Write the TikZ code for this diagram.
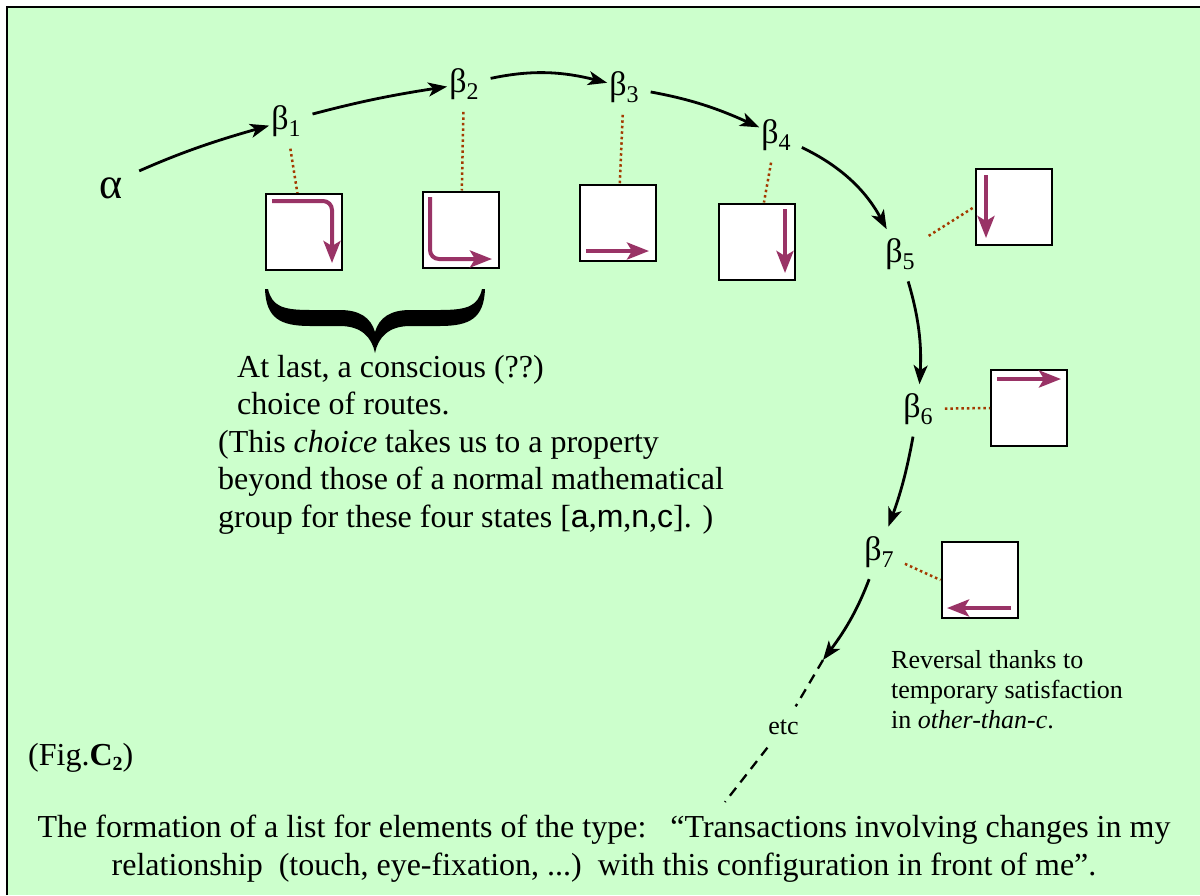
\documentclass[tikz,border=0pt]{standalone}
\usepackage{fontspec}
\setmainfont{Liberation Serif}
\newfontfamily\sansf{Liberation Sans}
\usetikzlibrary{arrows.meta}
\definecolor{bg}{HTML}{CCFFCC}
\definecolor{mag}{HTML}{993366}
\definecolor{dotc}{HTML}{A33A00}
\newcommand\bet[1]{β\raisebox{-7pt}{\fontsize{24}{24}\selectfont #1}}
\tikzset{
  state/.style={inner sep=2pt, font=\fontsize{34}{34}\selectfont},
  flow/.style={draw=black, line width=2.8pt, -{Stealth[length=19pt,width=14pt,inset=5pt]}, shorten <=10pt},
  cell/.style={draw=black, line width=2pt, fill=white, minimum width=76pt, minimum height=76pt, inner sep=0pt},
  route/.style={draw=mag, line width=4pt, -{Stealth[length=22pt,width=17pt,inset=5pt]}, rounded corners=9pt},
  link/.style={draw=dotc, line width=2.5pt, dash pattern={on 2.5pt off 3pt}, shorten <=10pt},
  dashline/.style={draw=black, line width=2.3pt, dash pattern={on 10pt off 7pt}},
  body/.style={inner sep=0pt, font=\fontsize{32}{37.5}\selectfont},
  small/.style={inner sep=0pt, font=\fontsize{26}{30}\selectfont}
}
\begin{document}
\begin{tikzpicture}[x=1pt,y=-1pt]
\useasboundingbox (0,0) rectangle (1200,895);
\fill[bg] (7,7) rectangle (1200,895);
\draw[line width=2pt] (7,895) -- (7,7) -- (1200,7);

% states
\node[state, font=\fontsize{44}{44}\selectfont, inner sep=0pt] (a) at (111,188) {α};
\node[state] (b1) at (286,121) {\bet{1}};
\node[state] (b2) at (464,84)  {\bet{2}};
\node[state] (b3) at (624,87)  {\bet{3}};
\node[state] (b4) at (776,135) {\bet{4}};
\node[state] (b5) at (900,254) {\bet{5}};
\node[state] (b6) at (918,409) {\bet{6}};
\node[state] (b7) at (879,552) {\bet{7}};
\coordinate (e1) at (823,660);
\coordinate (e4) at (725,802);
\node[inner sep=13pt, font=\fontsize{26}{26}\selectfont] (etc) at (783.5,727) {etc};

% boxes
\node[cell] (box1) at (303.5,232)   {};
\node[cell] (box2) at (461,229.5)   {};
\node[cell] (box3) at (618,222.5)   {};
\node[cell] (box4) at (757,241.5)   {};
\node[cell] (box5) at (1014,206.5)  {};
\node[cell] (box6) at (1029,408)    {};
\node[cell] (box7) at (979.5,580)   {};

% routes inside boxes
\draw[route] (272,201) -- (332,201) -- (332,263);
\draw[route] (430,197) -- (430,259) -- (492,259);
\draw[route] (586,251) -- (649,251);
\draw[route] (785,209) -- (785,273);
\draw[route] (986,175) -- (986,238);
\draw[route] (997,379) -- (1061,379);
\draw[route] (1011,608) -- (947,608);

% dotted links
\draw[link] (b1) -- (box1);
\draw[link] (b2) -- (box2);
\draw[link] (b3) -- (box3);
\draw[link] (b4) -- (box4);
\draw[link, shorten <=14pt] (b5) -- (box5.west);
\draw[link] (b6) -- (box6.west);
\draw[link] (b7) -- (box7.west);

% main flow
\draw[flow, shorten <=18pt] (a.40) to[bend left=4] (b1);
\draw[flow] (b1) to[bend left=3] (b2);
\draw[flow] (b2) to[bend left=13] (b3);
\draw[flow] (b3) to[bend left=7] (b4);
\draw[flow, shorten >=8pt] (b4) to[bend left=18] (b5);
\draw[flow, shorten >=7pt] (b5) to[bend left=10] (b6);
\draw[flow, shorten >=8pt] (b6) to[bend left=5] (b7);
\draw[flow] (b7) to[bend left=8] (e1);
\draw[dashline] (e1) -- (etc) -- (e4);

% brace
\fill[black] (265,289) .. controls (266,318) and (280,326) .. (310,326) -- (340,326)
  .. controls (362,326) and (372,338) .. (375,353)
  .. controls (378,338) and (388,326) .. (410,326) -- (440,326)
  .. controls (470,326) and (484,318) .. (485,289)
  -- (482,289) .. controls (478,306) and (468,310) .. (440,310) -- (410,310)
  .. controls (390,310) and (379,318) .. (375,332)
  .. controls (371,318) and (360,310) .. (340,310) -- (310,310)
  .. controls (282,310) and (272,306) .. (268,289) -- cycle;

% texts (base anchor = last line)
\node[body, anchor=base west, align=left] (note) at (218,527)
  {\hspace*{19pt}At last, a conscious (??)\\
   \hspace*{19pt}choice of routes.\\
   (This \textit{choice} takes us to a property\\
   beyond those of a normal mathematical\\
   group for these four states [{\sansf a},{\sansf m},{\sansf n},{\sansf c}]. )};
\node[small, anchor=base west, align=left] (rev) at (891,728)
  {Reversal thanks to\\ temporary satisfaction\\ in \textit{other-than-c}.};
\node[body, anchor=base west] (fig) at (28,765)
  {(Fig.\textbf{C}\raisebox{-5pt}{\fontsize{20}{20}\selectfont\bfseries 2})};
\node[body, anchor=base, align=center] (cap) at (604,875)
  {The formation of a list for elements of the type:\ \ \ “Transactions involving changes in my\\
   relationship\ \ (touch, eye-fixation, ...)\ \ with this configuration in front of me”.};
\end{tikzpicture}
\end{document}
